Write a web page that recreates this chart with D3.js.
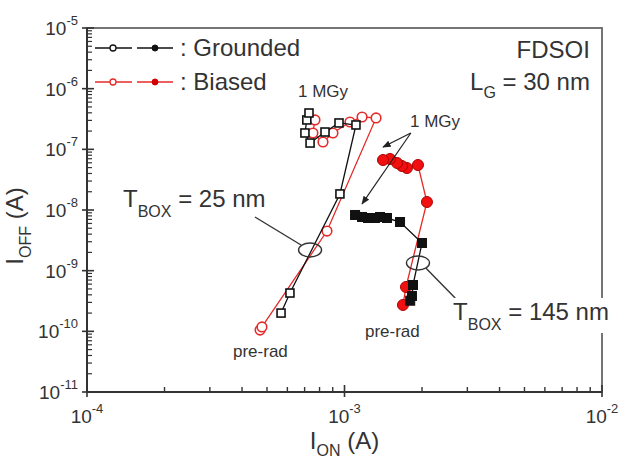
<!DOCTYPE html>
<html><head><meta charset="utf-8">
<script src="https://cdn.jsdelivr.net/npm/d3@7"></script>
<style>body{margin:0;background:#fff}svg{display:block}text{font-family:"Liberation Sans",Arial,Helvetica,sans-serif}</style>
</head><body><svg id="c" width="619" height="462"></svg>
<script>
// ---- data ----
const xTickVals = [1e-4, 1e-3, 1e-2];
const xTickExp = ["-4", "-3", "-2"];
const yTickVals = [1e-11, 1e-10, 1e-9, 1e-8, 1e-7, 1e-6, 1e-5];
const yTickExp = ["-11", "-10", "-9", "-8", "-7", "-6", "-5"];

// TBOX = 25 nm, grounded (open squares)
const g25Ion  = [5.67e-4, 6.14e-4, 9.6e-4, 1.108e-3, 9.52e-4, 8.4e-4, 7.35e-4, 7.02e-4, 7.14e-4, 7.28e-4];
const g25Ioff = [2.0e-10, 4.28e-10, 1.84e-8, 2.52e-7, 2.72e-7, 1.93e-7, 1.27e-7, 1.86e-7, 3.05e-7, 3.97e-7];
// TBOX = 25 nm, biased (open circles)
const b25Ion  = [4.70e-4, 4.78e-4, 8.55e-4, 1.326e-3, 1.17e-3, 1.05e-3, 9.02e-4, 8.25e-4, 7.54e-4, 7.68e-4];
const b25Ioff = [1.05e-10, 1.18e-10, 4.5e-9, 3.29e-7, 3.41e-7, 2.82e-7, 1.86e-7, 1.32e-7, 1.86e-7, 3.05e-7];
// TBOX = 145 nm, grounded (filled squares)
const g145Ion  = [1.80e-3, 1.828e-3, 1.845e-3, 2.0e-3, 1.643e-3, 1.462e-3, 1.374e-3, 1.314e-3, 1.234e-3, 1.17e-3, 1.099e-3];
const g145Ioff = [3.2e-10, 3.83e-10, 5.8e-10, 2.86e-9, 6.34e-9, 7.38e-9, 7.67e-9, 7.38e-9, 7.38e-9, 7.67e-9, 8.28e-9];
// TBOX = 145 nm, biased (filled circles)
const b145Ion  = [1.687e-3, 1.733e-3, 2.09e-3, 1.929e-3, 1.748e-3, 1.672e-3, 1.6e-3, 1.502e-3, 1.411e-3];
const b145Ioff = [2.72e-10, 5.38e-10, 1.355e-8, 5.52e-8, 4.92e-8, 5.31e-8, 5.96e-8, 6.93e-8, 6.67e-8];

const legendLabels = [": Grounded", ": Biased"];

// ---- setup ----
const svg = d3.select("#c");
const x = d3.scaleLog().domain([1e-4, 1e-2]).range([87, 602]);
const y = d3.scaleLog().domain([1e-11, 1e-5]).range([392, 28]);
const RED = "#e52a2a", BLACK = "#111";
const TXT = "#333";

// frame
svg.append("rect").attr("x", x.range()[0]).attr("y", y.range()[1])
  .attr("width", x.range()[1] - x.range()[0]).attr("height", y.range()[0] - y.range()[1])
  .attr("fill", "none").attr("stroke", "#666").attr("stroke-width", 1.8);

// ticks
const minor = (vals) => { const out = []; for (let i = 0; i < vals.length - 1; i++) for (let k = 2; k <= 9; k++) out.push(vals[i] * k); return out; };
const ax = svg.append("g").attr("stroke", "#333");
const x0 = x.range()[0], yb = y.range()[0];
xTickVals.forEach(v => ax.append("line").attr("x1", x(v)).attr("x2", x(v)).attr("y1", yb + 5).attr("y2", yb - 7).attr("stroke-width", 1.6));
minor(xTickVals).forEach(v => ax.append("line").attr("x1", x(v)).attr("x2", x(v)).attr("y1", yb).attr("y2", yb - 5).attr("stroke-width", 1.4));
yTickVals.forEach(v => ax.append("line").attr("y1", y(v)).attr("y2", y(v)).attr("x1", x0 - 5).attr("x2", x0 + 7).attr("stroke-width", 1.6));
minor(yTickVals).forEach(v => ax.append("line").attr("y1", y(v)).attr("y2", y(v)).attr("x1", x0).attr("x2", x0 + 5).attr("stroke-width", 1.2));
ax.append("line").attr("x1", x0).attr("x2", x.range()[1]).attr("y1", yb).attr("y2", yb).attr("stroke-width", 2);
ax.append("line").attr("x1", x0).attr("x2", x0).attr("y1", yb).attr("y2", y.range()[1]).attr("stroke-width", 2);

// tick labels
xTickVals.forEach((v, i) => {
  const t = svg.append("text").attr("x", x(v)).attr("y", yb + 31).attr("text-anchor", "middle")
    .attr("fill", TXT).attr("font-size", 19);
  t.append("tspan").text("10");
  t.append("tspan").attr("font-size", 13).attr("dy", -10).text(xTickExp[i]);
});
yTickVals.forEach((v, i) => {
  const t = svg.append("text").attr("x", x0 - 9).attr("y", y(v) + 7).attr("text-anchor", "end")
    .attr("fill", TXT).attr("font-size", 19);
  t.append("tspan").text("10");
  t.append("tspan").attr("font-size", 13).attr("dy", -10).text(yTickExp[i]);
});

// axis titles
{
  const t = svg.append("text").attr("x", x(1e-3)).attr("y", 449).attr("text-anchor", "middle").attr("fill", TXT).attr("font-size", 24);
  t.append("tspan").text("I");
  t.append("tspan").attr("font-size", 16).attr("dy", 7).text("ON");
  t.append("tspan").attr("dy", -7).text(" (A)");
  const t2 = svg.append("text").attr("transform", "translate(23,226) rotate(-90)").attr("text-anchor", "middle").attr("fill", TXT).attr("font-size", 24);
  t2.append("tspan").text("I");
  t2.append("tspan").attr("font-size", 16).attr("dy", 8).text("OFF");
  t2.append("tspan").attr("dy", -8).text(" (A)");
}

// series
const zip = (a, b) => a.map((v, i) => [v, b[i]]);
const line = d3.line().x(d => x(d[0])).y(d => y(d[1]));
function series(ion, ioff, color, shape, filled) {
  const data = zip(ion, ioff);
  svg.append("path").attr("d", line(data)).attr("fill", "none").attr("stroke", color).attr("stroke-width", 1.3);
  const g = svg.append("g");
  if (shape === "square") {
    const s = filled ? 9 : 8;
    g.selectAll("rect").data(data).join("rect")
      .attr("x", d => x(d[0]) - s / 2).attr("y", d => y(d[1]) - s / 2).attr("width", s).attr("height", s)
      .attr("fill", filled ? color : "#fff").attr("stroke", color).attr("stroke-width", filled ? 1 : 1.6);
  } else {
    g.selectAll("circle").data(data).join("circle")
      .attr("cx", d => x(d[0])).attr("cy", d => y(d[1])).attr("r", filled ? 5.5 : 4.8)
      .attr("fill", filled ? "#f01010" : "#fff").attr("stroke", filled ? "#b00000" : color).attr("stroke-width", filled ? 1 : 1.6);
  }
}
series(b25Ion, b25Ioff, RED, "circle", false);
series(g25Ion, g25Ioff, BLACK, "square", false);
series(b145Ion, b145Ioff, RED, "circle", true);
series(g145Ion, g145Ioff, BLACK, "square", true);

// legend
[[BLACK, "#111"], [RED, "#d00000"]].forEach((c, i) => {
  const ly = 48 + i * 34;
  const g = svg.append("g");
  g.append("line").attr("x1", 95).attr("x2", 132).attr("y1", ly).attr("y2", ly).attr("stroke", c[0]).attr("stroke-width", 1.5);
  g.append("line").attr("x1", 137).attr("x2", 173).attr("y1", ly).attr("y2", ly).attr("stroke", c[0]).attr("stroke-width", 1.5);
  g.append("circle").attr("cx", 113).attr("cy", ly).attr("r", 3).attr("fill", "#fff").attr("stroke", c[0]).attr("stroke-width", 1.3);
  g.append("circle").attr("cx", 155).attr("cy", ly).attr("r", 3).attr("fill", c[1]).attr("stroke", c[1]).attr("stroke-width", 1);
  g.append("text").attr("x", 180).attr("y", ly + 8).attr("font-size", 24).attr("fill", TXT).text(legendLabels[i]);
});

// annotations
svg.append("text").attr("x", x(8.98e-3)).attr("y", y(3.2e-6)).attr("text-anchor", "end").attr("font-size", 24).attr("fill", TXT).text("FDSOI");
{
  const t = svg.append("text").attr("x", x(8.98e-3)).attr("y", y(9.5e-7)).attr("text-anchor", "end").attr("font-size", 24).attr("fill", TXT);
  t.append("tspan").text("L");
  t.append("tspan").attr("font-size", 16).attr("dy", 8).text("G");
  t.append("tspan").attr("dy", -8).text(" = 30 nm");
}
svg.append("text").attr("x", x(6.6e-4)).attr("y", y(7.29e-7)).attr("font-size", 17).attr("fill", TXT).text("1 MGy");
svg.append("text").attr("x", x(1.797e-3)).attr("y", y(2.33e-7)).attr("font-size", 17).attr("fill", TXT).text("1 MGy");
svg.append("text").attr("x", x(3.69e-4)).attr("y", y(3.78e-11)).attr("font-size", 17).attr("fill", TXT).text("pre-rad");
svg.append("text").attr("x", x(1.201e-3)).attr("y", y(8.07e-11)).attr("font-size", 17).attr("fill", TXT).text("pre-rad");

// arrows
const defs = svg.append("defs");
defs.append("marker").attr("id", "ah").attr("viewBox", "0 0 10 10").attr("refX", 9).attr("refY", 5)
  .attr("markerWidth", 7).attr("markerHeight", 7).attr("orient", "auto-start-reverse")
  .append("path").attr("d", "M0,1 L10,5 L0,9 z").attr("fill", "#222");
const arrowFrom = [1.81e-3, 1.86e-7];
[[1.411e-3, 1.09e-7], [1.17e-3, 1.26e-8]].forEach(tip => {
  svg.append("line").attr("x1", x(arrowFrom[0])).attr("y1", y(arrowFrom[1])).attr("x2", x(tip[0])).attr("y2", y(tip[1]))
    .attr("stroke", "#222").attr("stroke-width", 1.2).attr("marker-end", "url(#ah)");
});

// ellipses + leaders
function tbox(center, from, to, labelPos, value, bg) {
  svg.append("line").attr("x1", x(from[0])).attr("y1", y(from[1])).attr("x2", x(to[0])).attr("y2", y(to[1]))
    .attr("stroke", "#333").attr("stroke-width", 1.4);
  svg.append("ellipse").attr("cx", x(center[0])).attr("cy", y(center[1])).attr("rx", 11.5).attr("ry", 7)
    .attr("fill", "none").attr("stroke", "#333").attr("stroke-width", 1.4);
  const g = svg.append("g");
  const bgRect = g.append("rect").attr("fill", "#fff");
  const t = g.append("text").attr("x", x(labelPos[0])).attr("y", y(labelPos[1])).attr("font-size", 24).attr("fill", TXT);
  t.append("tspan").text("T");
  t.append("tspan").attr("font-size", 16).attr("dy", 10).text("BOX");
  t.append("tspan").attr("dy", -10).text(" = " + value + " nm");
  if (bg) {
    const b = t.node().getBBox();
    bgRect.attr("x", b.x - 2).attr("y", b.y).attr("width", b.width + 4).attr("height", b.height);
  } else {
    bgRect.remove();
  }
}
tbox([7.35e-4, 2.19e-9], [6.78e-4, 2.65e-9], [4.49e-4, 7.67e-9], [1.38e-4, 1.12e-8], "25", false);
tbox([1.929e-3, 1.34e-9], [2.073e-3, 1.1e-9], [2.69e-3, 3.55e-10], [2.64e-3, 1.54e-10], "145", true);
</script></body></html>
